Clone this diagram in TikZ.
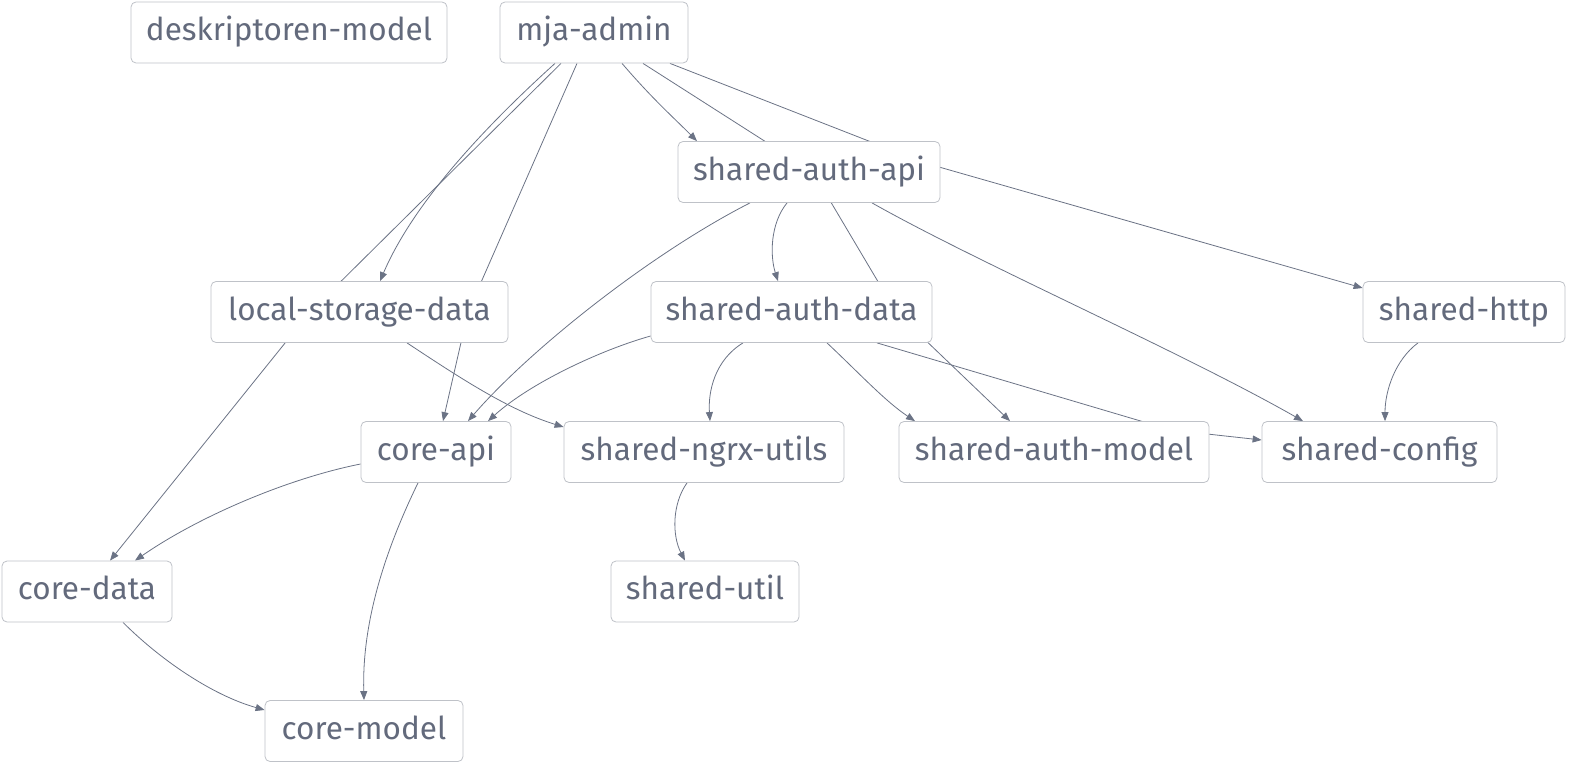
\documentclass[tikz,border=0pt]{standalone}
\usepackage{fontspec}
\setmainfont{Fira Sans}
\usetikzlibrary{arrows.meta,backgrounds}
\definecolor{edgegray}{HTML}{6B7385}
\definecolor{boxgray}{HTML}{BFC2C8}
\definecolor{labelgray}{HTML}{636A7C}

\begin{document}
\begin{tikzpicture}[x=1pt, y=1pt, >={Triangle[length=9pt,width=7pt]},
    lib/.style={draw=boxgray, fill=white, rounded corners=5pt, line width=0.8pt,
        text=labelgray, font=\fontsize{31.5}{36}\selectfont,
        minimum height=61pt, inner sep=0pt, text height=22.5pt, text depth=6pt},
    dep/.style={edgegray, line width=0.8pt}]

    \useasboundingbox (0,0) rectangle (1573,-765);

    \node[lib, minimum width=316pt] (deskr) at (289,-32.5) {deskriptoren-model};
    \node[lib, minimum width=188pt] (mjaadmin) at (594,-32.5) {mja-admin};
    \node[lib, minimum width=262pt] (authapi) at (809,-172) {shared-auth-api};
    \node[lib, minimum width=297pt] (lsdata) at (359.5,-312) {local-storage-data};
    \node[lib, minimum width=281pt] (authdata) at (791.5,-312) {shared-auth-data};
    \node[lib, minimum width=202pt] (http) at (1464,-312) {shared-http};
    \node[lib, minimum width=150pt] (coreapi) at (436,-452) {core-api};
    \node[lib, minimum width=280pt] (ngrx) at (704,-452) {shared-ngrx-utils};
    \node[lib, minimum width=310pt] (authmodel) at (1054,-452) {shared-auth-model};
    \node[lib, minimum width=235pt] (config) at (1379.5,-452) {shared-config};
    \node[lib, minimum width=170pt] (coredata) at (87,-591.5) {core-data};
    \node[lib, minimum width=188pt] (util) at (705,-591.5) {shared-util};
    \node[lib, minimum width=198pt] (coremodel) at (364,-731) {core-model};

    \begin{scope}[on background layer]
    % mja-admin
    \draw[dep, ->] ([xshift=-39pt]mjaadmin.south) .. controls +(-85,-77) and +(30,70) .. ([xshift=20.5pt]lsdata.north);
    \draw[dep, ->] ([xshift=-33pt]mjaadmin.south) -- ([xshift=-49.5pt]lsdata.center) -- ([xshift=23pt]coredata.north);
    \draw[dep, ->] ([xshift=-17pt]mjaadmin.south) -- ([xshift=108.5pt]lsdata.center) -- ([xshift=7pt]coreapi.north);
    \draw[dep, ->] ([xshift=28pt]mjaadmin.south) .. controls +(30,-35) and +(-25,25) .. ([xshift=-112pt]authapi.north);
    \draw[dep, ->] ([xshift=49pt]mjaadmin.south) -- ([xshift=4pt]authapi.center) -- ([xshift=104.5pt]authdata.center) -- ([xshift=-44pt]authmodel.north);
    \draw[dep, ->] ([xshift=76pt]mjaadmin.south) -- ([xshift=116pt,yshift=9pt]authapi.center) -- ([yshift=24pt]http.west);

    % shared-auth-api
    \draw[dep, ->] ([xshift=-59pt]authapi.south) .. controls +(-100,-51) and +(62,71.5) .. ([xshift=32pt]coreapi.north);
    \draw[dep, ->] ([xshift=-22pt]authapi.south) .. controls +(-17,-21) and +(-8,25) .. ([xshift=-13.5pt]authdata.north);
    \draw[dep, ->] ([xshift=63pt]authapi.south) .. controls +(108,-61) and +(-123,70) .. ([xshift=-76.5pt]config.north);

    % shared-auth-data
    \draw[dep, ->] ([yshift=-24pt]authdata.west) .. controls +(-50,-14) and +(42,38) .. ([xshift=52pt]coreapi.north);
    \draw[dep, ->] ([xshift=-48.5pt]authdata.south) .. controls +(-28,-17) and +(-2,30) .. ([xshift=6pt]ngrx.north);
    \draw[dep, ->] ([xshift=35.5pt]authdata.south) .. controls +(33,-31) and +(-30,20) .. ([xshift=-139pt]authmodel.north);
    \draw[dep, ->] ([xshift=85.5pt]authdata.south) -- ([xshift=117pt,yshift=22pt]authmodel.center) -- ([yshift=12pt]config.west);

    \draw[dep, ->] ([xshift=47.5pt]lsdata.south) .. controls +(53,-35) and +(-55,17) .. ([yshift=25pt]ngrx.west);
    \draw[dep, ->] ([yshift=-12pt]coreapi.west) .. controls +(-71,-14) and +(65,45) .. ([xshift=48pt]coredata.north);
    \draw[dep, ->] ([xshift=-18pt]coreapi.south) .. controls +(-38,-78) and +(-2,70) .. (coremodel.north);
    \draw[dep, ->] ([xshift=36pt]coredata.south) .. controls +(37,-37) and +(-53,15) .. ([yshift=21pt]coremodel.west);
    \draw[dep, ->] ([xshift=-17pt]ngrx.south) .. controls +(-15,-21) and +(-13,25) .. ([xshift=-20pt]util.north);
    \draw[dep, ->] ([xshift=-46pt]http.south) .. controls +(-23,-17) and +(0,30) .. ([xshift=5.5pt]config.north);
    \end{scope}

\end{tikzpicture}
\end{document}
